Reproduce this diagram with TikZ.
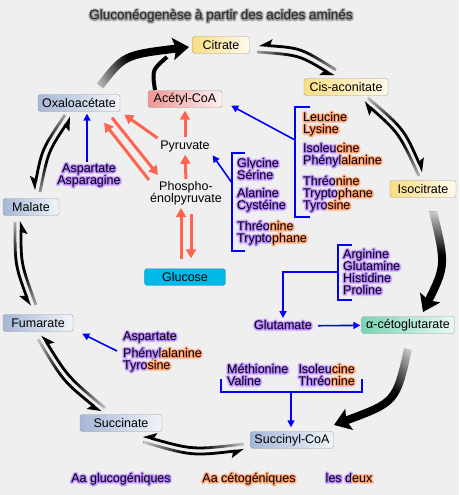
\documentclass[tikz,border=0pt]{standalone}
\usepackage{fontspec}
\setmainfont{Liberation Sans}
\usetikzlibrary{arrows.meta,fadings}
\definecolor{bgcol}{RGB}{239,239,239}
\definecolor{gluglow}{RGB}{182,132,255}
\definecolor{cetoglow}{RGB}{255,155,105}
\definecolor{titleglow}{RGB}{150,150,150}
\definecolor{redflow}{RGB}{255,100,80}
\definecolor{cycyellow}{RGB}{250,222,130}
\definecolor{cycblue}{RGB}{165,183,215}
\definecolor{cycgreen}{RGB}{120,212,180}
\definecolor{cycpink}{RGB}{240,150,150}
\definecolor{glucosecol}{RGB}{0,185,232}
% soft halo round the letters: stroked copies under the text
\newcommand\haloonly[2]{\rlap{\special{pdf:literal direct 1 Tr 4 w 1 j 1 J}\textcolor{#1!35!bgcol}{#2}}%
  \special{pdf:literal direct 1 Tr 2.2 w}\textcolor{#1}{#2}\special{pdf:literal direct 0 Tr}}
\newcommand\halo[2]{\leavevmode\rlap{\haloonly{#1}{#2}}#2}
\newcommand\gluc[1]{\halo{gluglow}{#1}}
\newcommand\ceto[1]{\halo{cetoglow}{#1}}
\newcommand\both[2]{\leavevmode\rlap{\haloonly{gluglow}{#1}\haloonly{cetoglow}{#2}}#1#2}
\begin{tikzfadingfrompicture}[name=tailfade,x=1pt,y=1pt]
\path (-120,-40) rectangle (120,40);
\shade[left color=transparent!85, right color=transparent!0] (-50,-40) rectangle (-8,40);
\fill[transparent!0] (-8.5,-40) rectangle (120,40);
\end{tikzfadingfrompicture}
\tikzset{
  metab/.style={draw=gray!75, rounded corners=2.5pt, minimum height=17pt, inner sep=1pt,
    left color=#1, right color=#1!15!white},
  plain/.style={inner sep=1pt, align=center},
  aa/.style={inner sep=1pt, text height=9pt, text depth=2.5pt},
  redarrow/.style={draw=redflow, line width=3pt, -{Triangle[length=9pt,width=10pt]}},
  bluearrow/.style={draw=blue, line width=1.6pt, -{Triangle[length=7pt,width=7pt]}},
  blueline/.style={draw=blue, line width=1.6pt},
  bigarrow/.style={line width=8pt, -{Stealth[length=16pt,width=22pt,inset=3pt]}},
  revarrow/.style={line width=2.8pt, -{Stealth[harpoon,swap,length=11pt,width=13pt,inset=2pt]}},
  revarrowb/.style={line width=2.8pt, -{Stealth[harpoon,length=11pt,width=13pt,inset=2pt]}},
  fadeto/.style 2 args={path fading=tailfade, fit fading=false,
    fading transform={shift={(#1)}, rotate=#2}}
}
\begin{document}
\begin{tikzpicture}[x=1pt, y=-1pt, font=\fontsize{12.5}{12}\selectfont]
  \fill[bgcol] (0,0) rectangle (459,495);
  \useasboundingbox (0,0) rectangle (459,495);

  \node[text=black!85, font=\fontsize{13.5}{14}\selectfont] (title) at (221,16)
    {\halo{titleglow}{Gluconéogenèse à partir des acides aminés}};

  % cycle
  \node[metab=cycyellow, minimum width=57pt] (citrate) at (221,45) {Citrate};
  \node[metab=cycyellow, minimum width=84pt] (cisaco) at (346,87) {Cis-aconitate};
  \node[metab=cycyellow, minimum width=66pt] (isocit) at (423,189) {Isocitrate};
  \node[metab=cycgreen, minimum width=93pt] (akg) at (408,325) {α-cétoglutarate};
  \node[metab=cycblue, minimum width=83pt] (succcoa) at (292,440) {Succinyl-CoA};
  \node[metab=cycblue, minimum width=82pt] (succinate) at (121,423) {Succinate};
  \node[metab=cycblue, minimum width=70pt] (fumarate) at (38,323) {Fumarate};
  \node[metab=cycblue, minimum width=56pt] (malate) at (31,207) {Malate};
  \node[metab=cycblue, minimum width=82pt] (oxalo) at (79,103) {Oxaloacétate};
  \node[metab=cycpink, minimum width=74pt] (acetyl) at (185,99) {Acétyl-CoA};
  \node[metab=glucosecol, right color=glucosecol, minimum width=81pt] (glucose) at (185,277) {Glucose};
  \node[plain] (pyruvate) at (185,146) {Pyruvate};
  \node[plain] (pep) at (186,193) {Phospho-\\énolpyruvate};

  \draw[bigarrow, fadeto={140,64}{23}] (100,86) .. controls (124,55) .. (189,47);
  \draw[line width=4pt] (155,90) .. controls (152,70) .. (167,57);
  \draw[bigarrow, fadeto={436,262}{-95}] (432,207) .. controls (446,265) .. (423,312);
  \draw[bigarrow, fadeto={383,393}{-134}] (408,349) .. controls (396,402) .. (334,425);

  \draw[revarrow, fadeto={297,58}{162}] (336,70) .. controls (301,48) .. (259,45);
  \draw[revarrow, fadeto={296,63}{-18}] (257,52) .. controls (299,55) .. (334,76);
  \draw[revarrowb, fadeto={392,139}{127}] (419,176) .. controls (399,133) .. (364,102);
  \draw[revarrowb, fadeto={396,135}{-53}] (368,98) .. controls (404,129) .. (423,172);
  \draw[revarrow, fadeto={194,443}{175}] (244,444) .. controls (193,450) .. (143,436);
  \draw[revarrow, fadeto={193,449}{-5}] (143,442) .. controls (192,456) .. (244,450);
  \draw[revarrow, fadeto={71,373}{131}] (105,408) .. controls (68,377) .. (42,335);
  \draw[revarrow, fadeto={68,377}{-49}] (38,339) .. controls (63,381) .. (101,412);
  \draw[revarrow, fadeto={25,263}{100}] (36,305) .. controls (21,264) .. (21,221);
  \draw[revarrow, fadeto={20,265}{-80}] (15,222) .. controls (15,265) .. (30,306);
  \draw[revarrow, fadeto={52,155}{67}] (40,192) .. controls (48,152) .. (71,117);
  \draw[revarrow, fadeto={46,152}{-112}] (65,115) .. controls (42,149) .. (34,190);

  % gluconeogenesis
  \draw[redarrow, shorten <=2pt, shorten >=3pt] (pyruvate.north) -- (acetyl.south);
  \draw[redarrow, shorten <=1pt, shorten >=2pt] (pep.north) -- (pyruvate.south);
  \draw[redarrow, shorten <=2pt, shorten >=5pt] (pyruvate.north west) -- (oxalo.south east);
  \draw[redarrow] (pep.north west) -- ([shift={(25,11)}]oxalo.south);
  \draw[redarrow] ([shift={(33,6)}]oxalo.south) -- ([shift={(9,-5)}]pep.north west);
  \draw[redarrow, shorten <=9pt, shorten >=2pt] ([xshift=-4pt]glucose.north) -- ([xshift=-4pt]glucose.north |- pep.south);
  \draw[redarrow, shorten <=8pt, shorten >=10pt] ([xshift=6pt]glucose.north |- pep.south) -- ([xshift=6pt]glucose.north);

  % amino acids
  \node[aa] (asp169) at (89,169) {\gluc{Aspartate}};
  \node[aa] (asn181) at (89,181) {\gluc{Asparagine}};
  \foreach \t/\y in {{\ceto{Leucine}}/118, {\ceto{Lysine}}/130, {\both{Isoleu}{cine}}/149,
      {\both{Phényl}{alanine}}/161, {\both{Thréo}{nine}}/182, {\both{Trypto}{phane}}/194, {\both{Tyro}{sine}}/206}
    \node[aa, anchor=west] (leu\y) at (302,\y) {\t};
  \foreach \t/\y in {{\gluc{Glycine}}/164, {\gluc{Sérine}}/176, {\gluc{Alanine}}/194, {\gluc{Cystéine}}/206,
      {\both{Thréo}{nine}}/227, {\both{Trypto}{phane}}/239}
    \node[aa, anchor=west] (gly\y) at (236,\y) {\t};
  \foreach \t/\y in {Arginine/255, Glutamine/267, Histidine/279, Proline/291}
    \node[aa, anchor=west] (arg\y) at (342,\y) {\gluc{\t}};
  \foreach \t/\y in {{\gluc{Aspartate}}/337, {\both{Phényl}{alanine}}/354, {\both{Tyro}{sine}}/366}
    \node[aa, anchor=west] (fum\y) at (122,\y) {\t};
  \node[aa, anchor=west] (met370) at (226,370) {\gluc{Méthionine}};
  \node[aa, anchor=west] (val382) at (226,382) {\gluc{Valine}};
  \node[aa, anchor=east] (ile370) at (356,370) {\both{Isoleu}{cine}};
  \node[aa, anchor=east] (thr382) at (356,382) {\both{Thréo}{nine}};
  \node[aa] (glutamate) at (283,326) {\gluc{Glutamate}};

  \draw[bluearrow, shorten >=2pt] ([xshift=-2pt]asp169.north) -- ([xshift=-2pt]asp169.north |- oxalo.south);
  \draw[blueline] (310,107) -| (295,217) -- (310,217);
  \coordinate (bleu) at (295,140);
  \draw[bluearrow] (bleu) -- ([shift={(9,-2)}]acetyl.south east);
  \draw[blueline] (245,153) -| (232,251) -- (245,251);
  \coordinate (bgly) at (232,183);
  \draw[bluearrow, shorten >=3pt] (bgly) -- (pyruvate.south east);
  \draw[blueline] (352,245) -| (338,300) -- (352,300);
  \coordinate (barg) at (338,272);
  \draw[bluearrow, shorten >=1pt] (barg) -| (glutamate.north);
  \draw[bluearrow, shorten <=5pt, shorten >=1pt] (glutamate) -- (akg);
  \draw[blueline] (221,379) |- (362,392) -- (362,379);
  \coordinate (bmet) at (291,392);
  \draw[bluearrow, shorten >=4pt] (bmet) -- (bmet |- succcoa.north);
  \coordinate (bfum) at (117,351);
  \draw[bluearrow] (bfum) -- ([shift={(9,2)}]fumarate.south east);

  % legend
  \node[aa] (lgluc) at (121,479) {\gluc{Aa glucogéniques}};
  \node[aa] (lceto) at (249,479) {\ceto{Aa cétogéniques}};
  \node[aa] (lboth) at (349,479) {\both{les d}{eux}};
\end{tikzpicture}
\end{document}
